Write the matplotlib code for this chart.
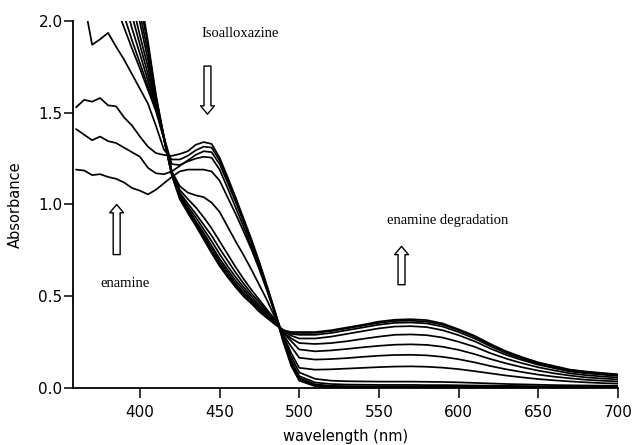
import matplotlib
matplotlib.use('Agg')
import matplotlib.pyplot as plt

# wavelength grid (nm)
wavelength = [360, 365, 370, 375, 380, 385, 390, 395, 400, 405, 410, 415, 420, 425, 430,
              435, 440, 445, 450, 455, 460, 465, 470, 475, 480, 485, 490, 495, 500,
              510, 520, 530, 540, 550, 560, 570, 580, 590, 600, 610, 620, 630, 640, 650,
              660, 670, 680, 690, 700]

# absorbance spectra, in time order
t00 = [1.19, 1.185, 1.16, 1.165, 1.15, 1.14, 1.12, 1.09, 1.075, 1.055, 1.08, 1.115, 1.15, 1.18, 1.19,
       1.19, 1.19, 1.18, 1.13, 1.04, 0.95, 0.855, 0.755, 0.645, 0.525, 0.40, 0.25, 0.12, 0.04,
       0.01, 0.004, 0.003, 0.002, 0.002, 0.002, 0.002, 0.002, 0.002, 0.002, 0.002, 0.002, 0.001, 0.001, 0.001,
       0.001, 0.001, 0.0, 0.0, 0.0]
t01 = [1.41, 1.38, 1.35, 1.37, 1.345, 1.335, 1.31, 1.285, 1.26, 1.20, 1.17, 1.165, 1.18, 1.21, 1.24,
       1.27, 1.29, 1.285, 1.22, 1.12, 1.015, 0.905, 0.79, 0.67, 0.54, 0.405, 0.26, 0.135, 0.055,
       0.02, 0.012, 0.01, 0.009, 0.009, 0.009, 0.009, 0.009, 0.008, 0.008, 0.007, 0.007, 0.006, 0.006, 0.005,
       0.005, 0.005, 0.005, 0.005, 0.005]
t02 = [1.53, 1.57, 1.56, 1.58, 1.54, 1.535, 1.475, 1.43, 1.37, 1.315, 1.28, 1.27, 1.265, 1.275, 1.29,
       1.325, 1.34, 1.33, 1.255, 1.15, 1.04, 0.925, 0.81, 0.685, 0.55, 0.41, 0.26, 0.13, 0.05,
       0.015, 0.01, 0.008, 0.007, 0.007, 0.007, 0.007, 0.007, 0.006, 0.006, 0.006, 0.005, 0.005, 0.005, 0.004,
       0.004, 0.004, 0.004, 0.004, 0.004]
t03 = [2.3, 2.1, 1.87, 1.90, 1.935, 1.86, 1.79, 1.71, 1.63, 1.55, 1.43, 1.30, 1.245, 1.245, 1.265,
       1.295, 1.315, 1.31, 1.24, 1.135, 1.03, 0.915, 0.80, 0.678, 0.545, 0.41, 0.27, 0.15, 0.065,
       0.03, 0.022, 0.019, 0.018, 0.017, 0.017, 0.017, 0.016, 0.016, 0.015, 0.014, 0.013, 0.012, 0.011, 0.01,
       0.009, 0.009, 0.008, 0.008, 0.008]
t04 = [3.6, 3.4, 3.2, 3.0, 2.8, 2.6, 2.45, 2.3, 2.15, 1.89, 1.60, 1.37, 1.22, 1.215, 1.235,
       1.25, 1.26, 1.255, 1.19, 1.09, 0.985, 0.88, 0.77, 0.655, 0.53, 0.40, 0.285, 0.17, 0.085,
       0.05, 0.04, 0.037, 0.036, 0.035, 0.035, 0.035, 0.034, 0.033, 0.031, 0.028, 0.025, 0.022, 0.02, 0.018,
       0.016, 0.015, 0.014, 0.013, 0.012]
t05 = [3.5, 3.3, 3.1, 2.9, 2.75, 2.6, 2.45, 2.28, 2.1, 1.87, 1.59, 1.37, 1.18, 1.10, 1.065,
       1.05, 1.04, 1.01, 0.96, 0.88, 0.80, 0.725, 0.645, 0.56, 0.475, 0.38, 0.285, 0.19, 0.11,
       0.10, 0.102, 0.106, 0.11, 0.114, 0.117, 0.118, 0.116, 0.111, 0.103, 0.092, 0.08, 0.068, 0.058, 0.049,
       0.042, 0.036, 0.031, 0.027, 0.024]
t06 = [3.4, 3.2, 3.0, 2.85, 2.7, 2.55, 2.4, 2.26, 2.04, 1.83, 1.57, 1.37, 1.18, 1.08, 1.03,
       0.985, 0.93, 0.87, 0.80, 0.73, 0.66, 0.595, 0.535, 0.48, 0.425, 0.37, 0.29, 0.225, 0.165,
       0.155, 0.158, 0.163, 0.17, 0.176, 0.18, 0.181, 0.178, 0.17, 0.157, 0.14, 0.12, 0.102, 0.087, 0.073,
       0.062, 0.053, 0.045, 0.04, 0.036]
t07 = [3.3, 3.1, 2.95, 2.8, 2.65, 2.5, 2.35, 2.2, 1.99, 1.79, 1.56, 1.37, 1.175, 1.065, 1.005,
       0.95, 0.89, 0.83, 0.76, 0.695, 0.63, 0.57, 0.515, 0.465, 0.415, 0.365, 0.30, 0.255, 0.21,
       0.20, 0.205, 0.213, 0.222, 0.23, 0.236, 0.238, 0.235, 0.225, 0.208, 0.185, 0.158, 0.134, 0.113, 0.095,
       0.08, 0.068, 0.058, 0.052, 0.047]
t08 = [3.2, 3.0, 2.85, 2.7, 2.58, 2.45, 2.3, 2.1, 1.92, 1.75, 1.55, 1.365, 1.17, 1.055, 0.99,
       0.93, 0.865, 0.80, 0.73, 0.665, 0.605, 0.55, 0.50, 0.45, 0.405, 0.36, 0.305, 0.27, 0.245,
       0.24, 0.245, 0.255, 0.268, 0.28, 0.29, 0.292, 0.288, 0.275, 0.252, 0.225, 0.19, 0.16, 0.135, 0.113,
       0.096, 0.08, 0.07, 0.063, 0.057]
t09 = [3.1, 2.9, 2.75, 2.6, 2.48, 2.35, 2.2, 2.03, 1.87, 1.71, 1.54, 1.36, 1.17, 1.045, 0.98,
       0.91, 0.845, 0.775, 0.705, 0.645, 0.585, 0.535, 0.485, 0.44, 0.395, 0.355, 0.31, 0.285, 0.27,
       0.27, 0.28, 0.295, 0.31, 0.325, 0.335, 0.337, 0.332, 0.315, 0.288, 0.255, 0.215, 0.18, 0.152, 0.127,
       0.108, 0.09, 0.08, 0.073, 0.066]
t10 = [3.0, 2.8, 2.65, 2.52, 2.4, 2.27, 2.12, 1.96, 1.82, 1.675, 1.53, 1.36, 1.165, 1.04, 0.97,
       0.90, 0.83, 0.76, 0.69, 0.63, 0.57, 0.52, 0.475, 0.43, 0.39, 0.35, 0.315, 0.295, 0.29,
       0.29, 0.30, 0.315, 0.33, 0.345, 0.355, 0.357, 0.352, 0.335, 0.305, 0.27, 0.228, 0.19, 0.16, 0.133,
       0.113, 0.095, 0.085, 0.077, 0.07]
t11 = [2.9, 2.75, 2.6, 2.48, 2.35, 2.18, 2.03, 1.895, 1.77, 1.645, 1.52, 1.36, 1.16, 1.035, 0.96,
       0.89, 0.82, 0.745, 0.675, 0.615, 0.56, 0.51, 0.465, 0.42, 0.385, 0.35, 0.315, 0.30, 0.30,
       0.30, 0.31, 0.325, 0.34, 0.355, 0.365, 0.367, 0.362, 0.345, 0.315, 0.28, 0.235, 0.197, 0.165, 0.137,
       0.117, 0.098, 0.088, 0.08, 0.072]
t12 = [2.85, 2.7, 2.58, 2.45, 2.27, 2.08, 1.965, 1.85, 1.74, 1.625, 1.51, 1.36, 1.16, 1.03, 0.955,
       0.885, 0.81, 0.735, 0.665, 0.605, 0.55, 0.50, 0.46, 0.415, 0.38, 0.345, 0.315, 0.305, 0.305,
       0.305, 0.315, 0.33, 0.345, 0.362, 0.372, 0.375, 0.37, 0.352, 0.32, 0.285, 0.24, 0.20, 0.168, 0.14,
       0.12, 0.10, 0.09, 0.082, 0.075]

spectra = [t00, t01, t02, t03, t04, t05, t06, t07, t08, t09, t10, t11, t12]

x_ticks = [400, 450, 500, 550, 600, 650, 700]
y_ticks = [0.0, 0.5, 1.0, 1.5, 2.0]
y_tick_labels = ['0.0', '0.5', '1.0', '1.5', '2.0']

fig = plt.figure(figsize=(6.35, 4.45), dpi=100)
ax = fig.add_axes([0.115, 0.128, 0.858, 0.825])

for s in spectra:
    ax.plot(wavelength, s, color='black', lw=1.25, solid_joinstyle='round')

ax.set_xlim(358, 700)
ax.set_ylim(0, 2.0)
ax.spines['top'].set_visible(False)
ax.spines['right'].set_visible(False)
for sp in ('left', 'bottom'):
    ax.spines[sp].set_linewidth(1.3)

ax.set_xticks(x_ticks)
ax.set_xticklabels([str(v) for v in x_ticks])
ax.set_yticks(y_ticks)
ax.set_yticklabels(y_tick_labels)
ax.tick_params(axis='x', direction='out', length=7, width=1.1, labelsize=11, pad=5)
ax.tick_params(axis='y', direction='out', length=6.5, width=1.1, labelsize=11, pad=1)

ax.set_xlabel('wavelength (nm)', fontsize=10.5, labelpad=7)
ax.set_ylabel('Absorbance', fontsize=10.5, labelpad=11)

serif = 'Liberation Serif'
ax.text(462.6, 1.934, 'Isoalloxazine', family=serif, fontsize=10.5, ha='center', va='center')
ax.text(390.6, 0.568, 'enamine', family=serif, fontsize=10.5, ha='center', va='center')
ax.text(593.4, 0.913, 'enamine degradation', family=serif, fontsize=10.5, ha='center', va='center')

astyle = 'simple,head_length=0.6,head_width=1.0,tail_width=0.5'
aprops = dict(arrowstyle=astyle, fc='white', ec='black', lw=1.0,
              mutation_scale=10, shrinkA=0, shrinkB=0)
ax.annotate('', xy=(442.4, 1.492), xytext=(442.4, 1.754), arrowprops=aprops)
ax.annotate('', xy=(385.4, 1.0), xytext=(385.4, 0.727), arrowprops=aprops)
ax.annotate('', xy=(564.2, 0.772), xytext=(564.2, 0.563), arrowprops=aprops)

fig.savefig('out.png', dpi=100)
